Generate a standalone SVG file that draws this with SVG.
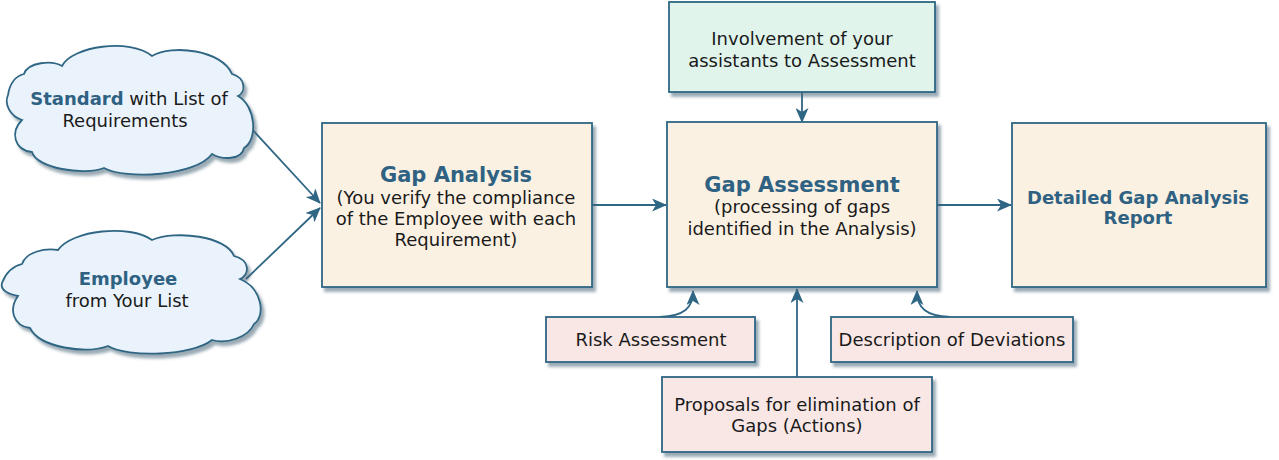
<svg xmlns="http://www.w3.org/2000/svg" width="1279" height="460" viewBox="0 0 1279 460">
<style>
.box{stroke:#2f6684;stroke-width:1.8}
.beige{fill:#fbf1e3}
.pink{fill:#f9e7e5}
.green{fill:#e0f4ec}
.cloud{fill:#eaf3fc;stroke:#2f6684;stroke-width:1.8}
text{font-family:"DejaVu Sans",Verdana,sans-serif;text-anchor:middle;fill:#1a1a1a;font-size:18px}
.t{fill:#2f6282;font-weight:bold;font-size:21px}
.b{fill:#2f6282;font-weight:bold}
.c{fill:none;stroke:#2f6684;stroke-width:1.8}
</style>
<defs>
<filter id="sh" x="-10%" y="-10%" width="130%" height="130%">
<feDropShadow dx="3" dy="4" stdDeviation="1.5" flood-color="#4a6578" flood-opacity="0.55"/>
</filter>
<marker id="ar" viewBox="0 0 15 13" refX="14" refY="6.5" markerWidth="15" markerHeight="13" markerUnits="userSpaceOnUse" orient="auto">
<path d="M0,0 L15,6.5 L0,13 L4,6.5 Z" fill="#2f6684"/>
</marker>
</defs>

<g id="connectors">
<line class="c" x1="250" y1="127" x2="320" y2="203" marker-end="url(#ar)"/>
<line class="c" x1="246" y1="279" x2="320" y2="208" marker-end="url(#ar)"/>
<line class="c" x1="592" y1="205" x2="666" y2="205" marker-end="url(#ar)"/>
<line class="c" x1="937" y1="205" x2="1011" y2="205" marker-end="url(#ar)"/>
<line class="c" x1="802" y1="92" x2="802" y2="122" marker-end="url(#ar)"/>
<path class="c" d="M660,317 C684,316 693,308 693,291" marker-end="url(#ar)"/>
<line class="c" x1="797" y1="377" x2="797" y2="289" marker-end="url(#ar)"/>
<path class="c" d="M950,317 C926,316 917,308 917,291" marker-end="url(#ar)"/>
</g>

<g id="cloud-standard">
<path class="cloud" filter="url(#sh)" d="M8,95 C10,82 16,76 24,74 C28,62 52,60 62,66 C72,46 130,38 152,56 C172,44 222,50 232,74 C246,78 246,92 238,96 C256,106 258,140 244,148 C242,160 222,160 212,154 C196,176 126,180 104,168 C84,176 36,168 32,152 C14,150 10,132 22,120 C10,116 4,104 8,95 Z"/>
<text x="129" y="105"><tspan class="b">Standard</tspan> with List of</text>
<text x="125" y="127">Requirements</text>
</g>

<g id="cloud-employee">
<path class="cloud" filter="url(#sh)" d="M2,283 C6,272 14,266 22,264 C26,252 44,248 58,250 C72,230 130,224 152,240 C176,230 226,236 234,256 C250,260 250,274 240,279 C262,288 266,316 254,324 C248,338 226,344 212,340 C192,356 128,358 108,346 C86,354 40,348 30,328 C14,326 8,310 18,296 C8,294 0,290 2,283 Z"/>
<text x="128" y="285" class="b">Employee</text>
<text x="127" y="307">from Your List</text>
</g>

<g id="gap-analysis">
<rect class="box beige" x="322" y="123" width="270" height="164" filter="url(#sh)"/>
<text x="456" y="182" class="t">Gap Analysis</text>
<text x="456" y="204">(You verify the compliance</text>
<text x="456" y="225">of the Employee with each</text>
<text x="456" y="246">Requirement)</text>
</g>

<g id="gap-assessment">
<rect class="box beige" x="667" y="122" width="270" height="165" filter="url(#sh)"/>
<text x="802" y="192" class="t">Gap Assessment</text>
<text x="802" y="213">(processing of gaps</text>
<text x="802" y="235">identified in the Analysis)</text>
</g>

<g id="report">
<rect class="box beige" x="1012" y="123" width="254" height="164" filter="url(#sh)"/>
<text x="1138" y="204" class="b">Detailed Gap Analysis</text>
<text x="1138" y="224" class="b">Report</text>
</g>

<g id="involvement">
<rect class="box green" x="669" y="2" width="266" height="90" filter="url(#sh)"/>
<text x="802" y="45">Involvement of your</text>
<text x="802" y="67">assistants to Assessment</text>
</g>

<g id="risk">
<rect class="box pink" x="546" y="317" width="209" height="45" filter="url(#sh)"/>
<text x="651" y="346">Risk Assessment</text>
</g>

<g id="deviations">
<rect class="box pink" x="831" y="317" width="242" height="45" filter="url(#sh)"/>
<text x="952" y="346">Description of Deviations</text>
</g>

<g id="proposals">
<rect class="box pink" x="662" y="377" width="270" height="75" filter="url(#sh)"/>
<text x="797" y="411">Proposals for elimination of</text>
<text x="797" y="432">Gaps (Actions)</text>
</g>
</svg>
